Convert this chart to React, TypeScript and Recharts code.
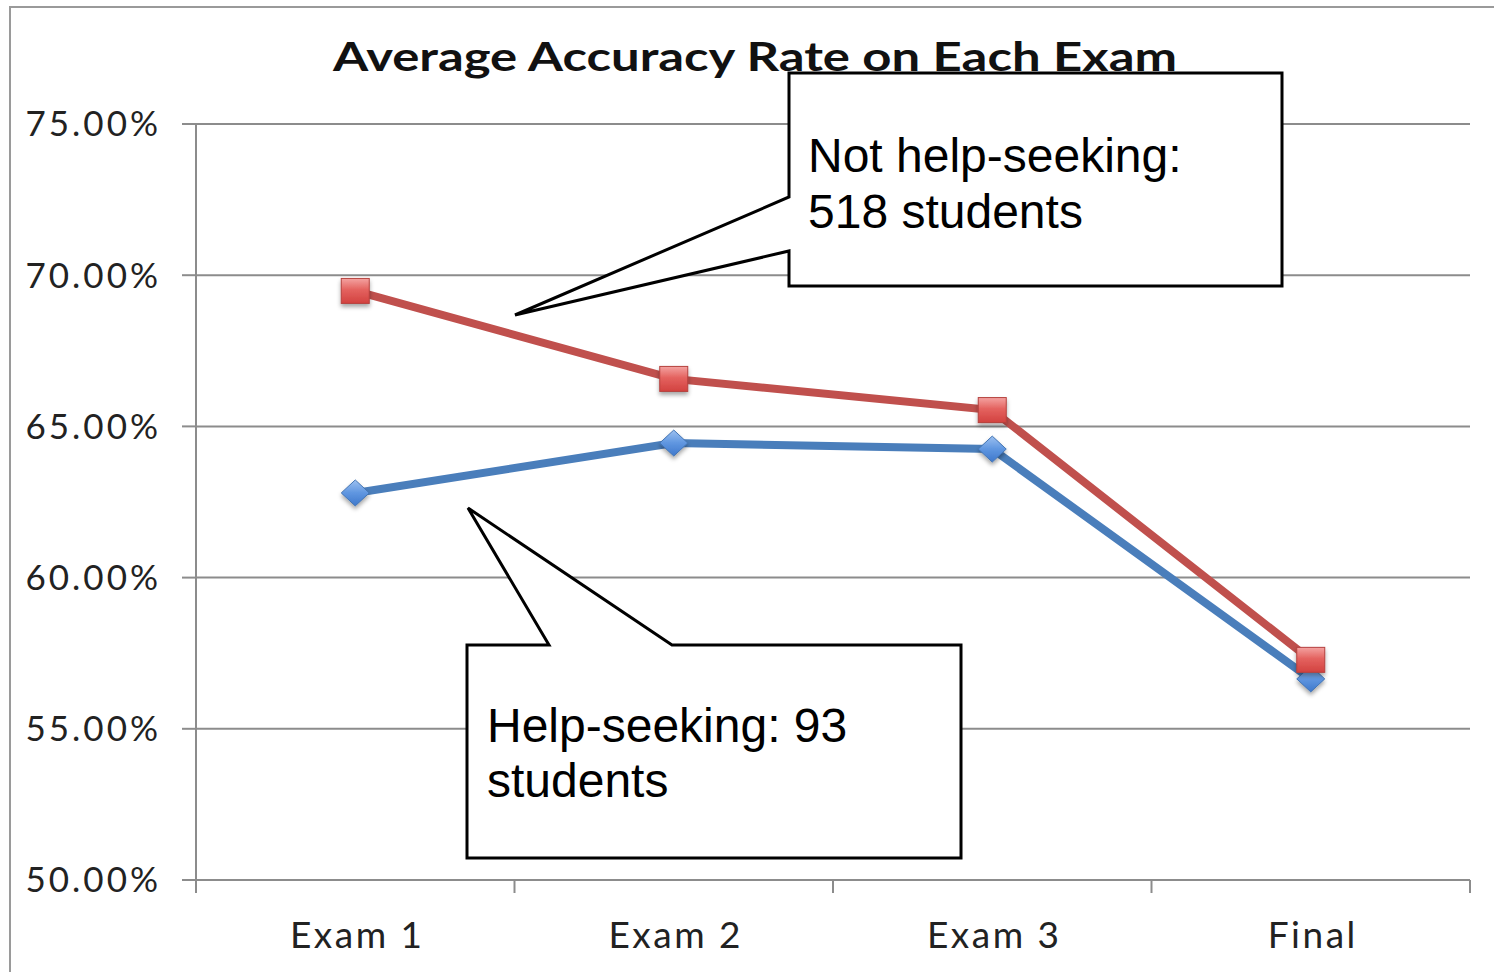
import { LineChart, Line, XAxis, YAxis, CartesianGrid } from "recharts";

const EXAMS = ["Exam 1", "Exam 2", "Exam 3", "Final"];
const HELP_SEEKING = [0.628, 0.6445, 0.6425, 0.5665];
const NOT_HELP_SEEKING = [0.6948, 0.6657, 0.6554, 0.5728];
const Y_TICKS = [0.5, 0.55, 0.6, 0.65, 0.7, 0.75];

const TITLE = "Average Accuracy Rate on Each Exam";
const NOTE_NOT_HELP = ["Not help-seeking:", "518 students"];
const NOTE_HELP = ["Help-seeking: 93", "students"];

const data = EXAMS.map((exam, i) => ({
  exam,
  help: HELP_SEEKING[i],
  notHelp: NOT_HELP_SEEKING[i],
}));

const AXIS = "#8c8c8c";
const LABEL_FONT = "Lato, 'Open Sans', sans-serif";
const NOTE_FONT = "'Liberation Sans', Arial, sans-serif";

function ExamTick({ x, y, payload, index }: any) {
  const half = payload?.offset ?? 159;
  const last = index === EXAMS.length - 1;
  return (
    <g>
      <line x1={x - half} y1={y} x2={x - half} y2={y + 13} stroke={AXIS} strokeWidth={2} />
      {last && <line x1={x + half} y1={y} x2={x + half} y2={y + 13} stroke={AXIS} strokeWidth={2} />}
      <text
        x={x + 2}
        y={y + 68}
        textAnchor="middle"
        fontFamily={LABEL_FONT}
        fontSize={37}
        letterSpacing={2.5}
        fill="#222"
      >
        {payload.value}
      </text>
    </g>
  );
}

function SquareDot({ cx, cy }: any) {
  if (cx == null || cy == null) return <g />;
  return (
    <rect
      x={cx - 14}
      y={cy - 12.5}
      width={28}
      height={25}
      fill="url(#redFill)"
      stroke="#b5413e"
      strokeWidth={1}
      filter="url(#dotShadow)"
    />
  );
}

function DiamondDot({ cx, cy }: any) {
  if (cx == null || cy == null) return <g />;
  return (
    <polygon
      points={`${cx},${cy - 13} ${cx + 14},${cy} ${cx},${cy + 13} ${cx - 14},${cy}`}
      fill="url(#blueFill)"
      stroke="#4274b3"
      strokeWidth={1}
      filter="url(#dotShadow)"
    />
  );
}

export default function App() {
  return (
    <div style={{ position: "absolute", left: 0, top: 0, width: 1494, height: 972, background: "#fff" }}>
      <LineChart width={1494} height={972} data={data} margin={{ top: 124, right: 24, bottom: 62, left: 0 }}>
        <defs>
          <linearGradient id="redFill" x1="0" y1="0" x2="0" y2="1">
            <stop offset="0%" stopColor="#f4a3a1" />
            <stop offset="45%" stopColor="#e4625f" />
            <stop offset="100%" stopColor="#d2423f" />
          </linearGradient>
          <linearGradient id="blueFill" x1="0" y1="0" x2="0" y2="1">
            <stop offset="0%" stopColor="#9cc0f0" />
            <stop offset="50%" stopColor="#5f96e0" />
            <stop offset="100%" stopColor="#3f78cc" />
          </linearGradient>
          <filter id="dotShadow" x="-50%" y="-50%" width="200%" height="200%">
            <feDropShadow dx="0" dy="3" stdDeviation="2" floodColor="#000" floodOpacity="0.35" />
          </filter>
        </defs>
        <CartesianGrid vertical={false} stroke={AXIS} strokeWidth={2} />
        <XAxis
          dataKey="exam"
          scale="band"
          height={30}
          axisLine={{ stroke: AXIS, strokeWidth: 2 }}
          tickLine={false}
          tickSize={0}
          tickMargin={0}
          tick={<ExamTick />}
          interval={0}
        />
        <YAxis
          width={196}
          domain={[0.5, 0.75]}
          ticks={Y_TICKS}
          interval={0}
          tickFormatter={(v: number) => `${(v * 100).toFixed(2)}%`}
          axisLine={{ stroke: AXIS, strokeWidth: 2 }}
          tickLine={{ stroke: AXIS, strokeWidth: 2 }}
          tickSize={14}
          tickMargin={21}
          tick={{ fontFamily: LABEL_FONT, fontSize: 35, fill: "#222", letterSpacing: 3 }}
        />
        <Line
          dataKey="help"
          stroke="#4a7ebb"
          strokeWidth={8}
          dot={(p: any) => <DiamondDot key={`h-${p.index}`} {...p} />}
          activeDot={false}
          isAnimationActive={false}
        />
        <Line
          dataKey="notHelp"
          stroke="#c0504d"
          strokeWidth={8}
          dot={(p: any) => <SquareDot key={`n-${p.index}`} {...p} />}
          activeDot={false}
          isAnimationActive={false}
        />
      </LineChart>
      <svg
        width={1494}
        height={972}
        style={{ position: "absolute", left: 0, top: 0, pointerEvents: "none" }}
      >
        <rect x={10} y={7} width={1500} height={1000} fill="none" stroke="#9a9a9a" strokeWidth={2} />
        <text
          x={755}
          y={71}
          textAnchor="middle"
          fontFamily={LABEL_FONT}
          fontWeight={700}
          fontSize={40}
          textLength={844}
          lengthAdjust="spacingAndGlyphs"
          fill="#111"
        >
          {TITLE}
        </text>
        <path
          d="M789,73 L1282,73 L1282,286 L789,286 L789,251 L515,315 L789,197 Z"
          fill="#fff"
          stroke="#000"
          strokeWidth={3}
          strokeLinejoin="miter"
        />
        <text fontFamily={NOTE_FONT} fontSize={48} fill="#000">
          <tspan x={808} y={172}>{NOTE_NOT_HELP[0]}</tspan>
          <tspan x={808} y={228}>{NOTE_NOT_HELP[1]}</tspan>
        </text>
        <path
          d="M467,645 L549,645 L468,508 L672,645 L961,645 L961,858 L467,858 Z"
          fill="#fff"
          stroke="#000"
          strokeWidth={3}
          strokeLinejoin="miter"
        />
        <text fontFamily={NOTE_FONT} fontSize={48} fill="#000">
          <tspan x={487} y={742}>{NOTE_HELP[0]}</tspan>
          <tspan x={487} y={797}>{NOTE_HELP[1]}</tspan>
        </text>
      </svg>
    </div>
  );
}
